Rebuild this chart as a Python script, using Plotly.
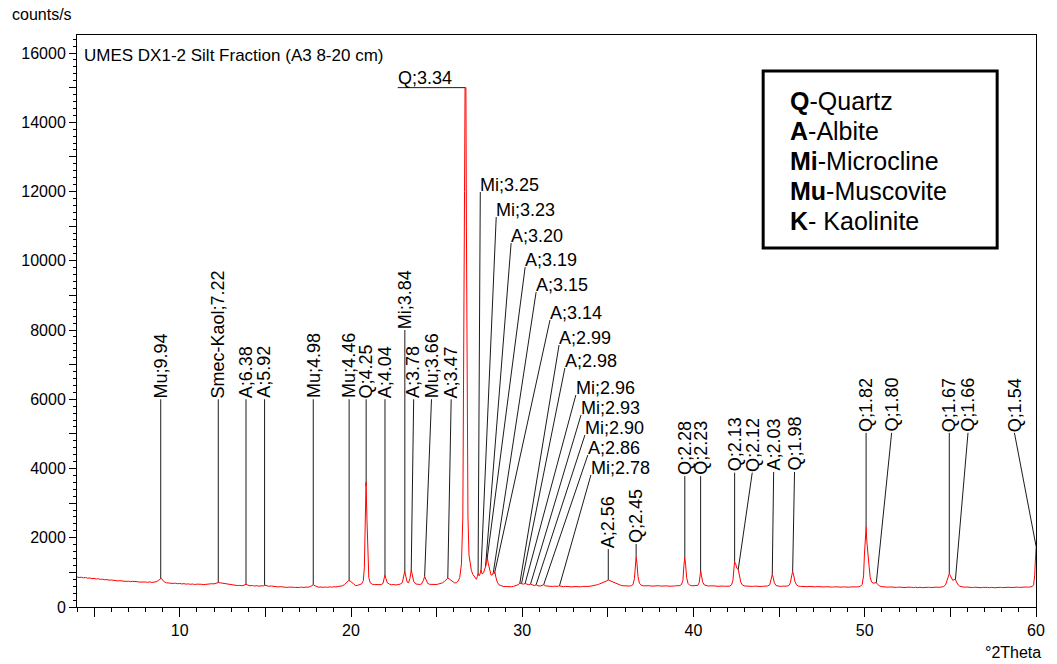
import numpy as np
import plotly.graph_objects as go

# ---------------------------------------------------------------------------
# Measured scan: (°2Theta, counts/s), Cu K-alpha, silt fraction
# ---------------------------------------------------------------------------
scan_04_13 = [
    (4.00, 868), (4.12, 852), (4.25, 860), (4.37, 842), (4.50, 851), (4.62, 833),
    (4.75, 838), (4.87, 820), (5.00, 826), (5.12, 808), (5.25, 815), (5.37, 798),
    (5.50, 804), (5.62, 786), (5.75, 792), (5.87, 775), (6.00, 781), (6.12, 766),
    (6.25, 772), (6.37, 755), (6.50, 761), (6.62, 748), (6.75, 753), (6.87, 738),
    (7.00, 746), (7.12, 732), (7.25, 740), (7.37, 726), (7.50, 733), (7.62, 720),
    (7.75, 728), (7.87, 714), (8.00, 722), (8.12, 712), (8.25, 725), (8.37, 710),
    (8.50, 722), (8.62, 728), (8.75, 765), (8.85, 815), (8.92, 830), (9.00, 780),
    (9.10, 725), (9.22, 700), (9.35, 688), (9.50, 695), (9.62, 680), (9.75, 688),
    (9.87, 672), (10.00, 680), (10.12, 666), (10.25, 674), (10.37, 660), (10.50, 668),
    (10.62, 655), (10.75, 664), (10.87, 650), (11.00, 660), (11.12, 648), (11.25, 657),
    (11.37, 646), (11.50, 658), (11.62, 650), (11.75, 664), (11.87, 672), (12.00, 668),
    (12.12, 690), (12.25, 705), (12.37, 698), (12.50, 688), (12.62, 672), (12.75, 662),
    (12.87, 645),
]

scan_13_20 = [
    (13.00, 632), (13.12, 622), (13.25, 630), (13.37, 618), (13.50, 625), (13.62, 615),
    (13.75, 628), (13.87, 658), (13.97, 632), (14.10, 612), (14.25, 620), (14.37, 606),
    (14.50, 615), (14.62, 602), (14.75, 612), (14.87, 608), (14.95, 628), (15.05, 610),
    (15.20, 600), (15.35, 606), (15.50, 590), (15.62, 596), (15.75, 580), (15.87, 588),
    (16.00, 574), (16.12, 580), (16.25, 566), (16.37, 574), (16.50, 562), (16.62, 572),
    (16.75, 564), (16.87, 575), (17.00, 566), (17.12, 574), (17.25, 563), (17.37, 578),
    (17.50, 570), (17.62, 588), (17.72, 612), (17.80, 642), (17.90, 612), (18.00, 585),
    (18.12, 570), (18.25, 580), (18.37, 566), (18.50, 578), (18.62, 568), (18.75, 582),
    (18.87, 572), (19.00, 586), (19.12, 578), (19.25, 592), (19.37, 596), (19.50, 612),
    (19.62, 648), (19.75, 720), (19.85, 758), (19.95, 752), (20.05, 705), (20.15, 650),
    (20.27, 618), (20.40, 628),
]

scan_20_29 = [
    (20.52, 645), (20.62, 668), (20.72, 760), (20.78, 1150), (20.83, 2400), (20.88, 3600),
    (20.93, 2550), (20.98, 1350), (21.04, 850), (21.12, 700), (21.25, 655), (21.37, 648),
    (21.50, 640), (21.62, 632), (21.75, 645), (21.87, 680), (21.93, 790), (21.98, 928),
    (22.04, 820), (22.12, 700), (22.25, 660), (22.37, 642), (22.50, 650), (22.62, 636),
    (22.75, 645), (22.87, 660), (23.00, 705), (23.08, 880), (23.14, 1040), (23.20, 890),
    (23.28, 720), (23.36, 700), (23.44, 820), (23.52, 1070), (23.58, 920), (23.66, 740),
    (23.78, 665), (23.90, 655), (24.02, 650), (24.12, 668), (24.22, 760), (24.30, 880),
    (24.38, 770), (24.48, 680), (24.60, 655), (24.72, 648), (24.85, 656), (24.97, 650),
    (25.10, 662), (25.22, 672), (25.35, 700), (25.47, 745), (25.57, 790), (25.65, 832),
    (25.75, 805), (25.85, 770), (25.95, 730), (26.05, 695), (26.15, 700), (26.25, 745),
    (26.35, 850), (26.45, 1250), (26.53, 2600), (26.59, 6500), (26.63, 12000), (26.66, 15000),
    (26.71, 15000), (26.74, 11000), (26.78, 5500), (26.83, 2600), (26.89, 1500), (26.96, 1180),
    (27.03, 1050), (27.12, 940), (27.22, 860), (27.32, 800), (27.38, 880), (27.42, 980),
    (27.48, 900), (27.54, 960), (27.59, 1070), (27.66, 950), (27.74, 990), (27.80, 1060),
    (27.86, 1170), (27.92, 1330), (27.96, 1410), (28.02, 1250), (28.10, 1030), (28.18, 920),
    (28.26, 930), (28.31, 990), (28.36, 960), (28.40, 1020), (28.46, 860), (28.54, 720),
    (28.64, 640),
]

scan_29_40 = [
    (28.75, 612), (28.87, 598), (29.00, 590), (29.12, 584), (29.25, 594), (29.37, 586),
    (29.50, 598), (29.62, 612), (29.75, 640), (29.86, 688), (29.96, 682), (30.06, 660),
    (30.17, 678), (30.28, 650), (30.38, 642), (30.48, 662), (30.60, 628), (30.70, 618),
    (30.81, 640), (30.92, 612), (31.05, 605), (31.15, 620), (31.25, 642), (31.37, 608),
    (31.50, 600), (31.62, 606), (31.75, 594), (31.87, 600), (32.00, 590), (32.10, 598),
    (32.17, 610), (32.27, 592), (32.40, 585), (32.52, 596), (32.65, 584), (32.77, 594),
    (32.90, 580), (33.02, 590), (33.15, 582), (33.27, 592), (33.40, 584), (33.52, 594),
    (33.65, 588), (33.77, 600), (33.90, 596), (34.02, 606), (34.15, 612), (34.27, 628),
    (34.40, 645), (34.52, 668), (34.65, 690), (34.77, 712), (34.90, 745), (35.02, 782),
    (35.12, 760), (35.25, 730), (35.37, 700), (35.50, 672), (35.62, 650), (35.75, 628),
    (35.87, 615), (36.00, 608), (36.12, 614), (36.25, 605), (36.37, 618), (36.47, 650),
    (36.55, 820), (36.60, 1180), (36.65, 1450), (36.70, 1250), (36.76, 880), (36.84, 690),
    (36.95, 628), (37.07, 612), (37.20, 618), (37.32, 604), (37.45, 614), (37.57, 602),
    (37.70, 612), (37.82, 600), (37.95, 615), (38.07, 604), (38.20, 612), (38.32, 600),
    (38.45, 610), (38.57, 602), (38.70, 614), (38.82, 604), (38.95, 612), (39.07, 606),
    (39.20, 618), (39.30, 650), (39.38, 760), (39.44, 1200), (39.49, 1420), (39.54, 1220),
    (39.60, 850), (39.68, 680), (39.78, 630), (39.90, 612),
]

scan_40_50 = [
    (40.02, 620), (40.14, 610), (40.25, 625), (40.33, 700), (40.38, 870), (40.42, 1040),
    (40.47, 900), (40.53, 730), (40.62, 640), (40.75, 612), (40.87, 604), (41.00, 612),
    (41.12, 600), (41.25, 608), (41.37, 598), (41.50, 606), (41.62, 596), (41.75, 604),
    (41.87, 598), (42.00, 608), (42.12, 604), (42.22, 640), (42.30, 760), (42.36, 1100),
    (42.40, 1310), (42.46, 1250), (42.53, 1120), (42.61, 1090), (42.68, 900), (42.76, 720),
    (42.85, 640), (42.95, 612), (43.07, 604), (43.20, 596), (43.32, 606), (43.45, 595),
    (43.57, 603), (43.70, 594), (43.82, 602), (43.95, 592), (44.07, 600), (44.20, 596),
    (44.32, 606), (44.45, 640), (44.52, 760), (44.57, 890), (44.60, 940), (44.65, 860),
    (44.72, 700), (44.82, 620), (44.95, 600), (45.07, 594), (45.20, 602), (45.32, 596),
    (45.45, 604), (45.57, 620), (45.66, 700), (45.73, 900), (45.79, 1020), (45.85, 920),
    (45.92, 740), (46.02, 640), (46.12, 604), (46.25, 596), (46.37, 590), (46.50, 598),
    (46.62, 586), (46.75, 594), (46.87, 584), (47.00, 592), (47.12, 582), (47.25, 590),
    (47.37, 580), (47.50, 588), (47.62, 578), (47.75, 586), (47.87, 576), (48.00, 586),
    (48.12, 575), (48.25, 584), (48.37, 574), (48.50, 582), (48.62, 574), (48.75, 580),
    (48.87, 572), (49.00, 580), (49.12, 572), (49.25, 582), (49.37, 574), (49.50, 580),
    (49.62, 584), (49.75, 600), (49.85, 650), (49.93, 900), (49.98, 1500), (50.03, 2050),
    (50.08, 2320), (50.12, 1900), (50.16, 1600), (50.21, 1480), (50.26, 1150), (50.32, 850),
    (50.40, 720),
]

scan_50_60 = [
    (50.50, 690), (50.60, 685), (50.67, 702), (50.75, 660), (50.85, 610), (50.97, 590),
    (51.10, 578), (51.22, 586), (51.35, 572), (51.47, 580), (51.60, 568), (51.72, 578),
    (51.85, 566), (51.97, 576), (52.10, 564), (52.22, 574), (52.35, 562), (52.47, 572),
    (52.60, 560), (52.72, 570), (52.85, 562), (52.97, 572), (53.10, 560), (53.22, 570),
    (53.35, 558), (53.47, 568), (53.60, 560), (53.72, 570), (53.85, 562), (53.97, 572),
    (54.10, 564), (54.22, 574), (54.35, 566), (54.47, 578), (54.60, 590), (54.72, 640),
    (54.82, 820), (54.88, 930), (54.94, 970), (55.00, 900), (55.07, 820), (55.14, 770),
    (55.22, 790), (55.29, 800), (55.36, 720), (55.45, 640), (55.55, 600), (55.67, 580),
    (55.80, 572), (55.92, 578), (56.05, 566), (56.17, 574), (56.30, 562), (56.42, 572),
    (56.55, 560), (56.67, 570), (56.80, 558), (56.92, 568), (57.05, 556), (57.17, 566),
    (57.30, 558), (57.42, 568), (57.55, 556), (57.67, 566), (57.80, 558), (57.92, 568),
    (58.05, 560), (58.17, 570), (58.30, 560), (58.42, 570), (58.55, 562), (58.67, 572),
    (58.80, 562), (58.92, 574), (59.05, 566), (59.17, 576), (59.30, 568), (59.42, 578),
    (59.55, 572), (59.67, 582), (59.78, 590), (59.86, 640), (59.92, 900), (59.96, 1300),
    (60.00, 1700),
]

# ---------------------------------------------------------------------------
# Identified reflections: phase code and d-spacing (Å)
# ---------------------------------------------------------------------------
peak_phase = ["Mu", "Smec-Kaol", "A", "A", "Mu", "Mu", "Q", "A", "Mi", "A", "Mu", "A",
              "Q", "Mi", "Mi", "A", "A", "A", "A", "A", "A", "Mi", "Mi", "Mi", "A", "Mi",
              "A", "Q", "Q", "Q", "Q", "Q", "A", "Q", "Q", "Q", "Q", "Q", "Q"]
peak_d = [9.94, 7.22, 6.38, 5.92, 4.98, 4.46, 4.25, 4.04, 3.84, 3.78, 3.66, 3.47,
          3.34, 3.25, 3.23, 3.20, 3.19, 3.15, 3.14, 2.99, 2.98, 2.96, 2.93, 2.90, 2.86, 2.78,
          2.56, 2.45, 2.28, 2.23, 2.13, 2.12, 2.03, 1.98, 1.82, 1.80, 1.67, 1.66, 1.54]

legend_codes = ["Q", "A", "Mi", "Mu", "K"]
legend_names = ["-Quartz", "-Albite", "-Microcline", "-Muscovite", "- Kaolinite"]

x_ticks = [5, 10, 15, 20, 25, 30, 35, 40, 45, 50, 55, 60]
y_ticks = list(range(0, 17000, 1000))

WAVELENGTH = 1.5406  # Cu K-alpha1, Å

# Label placement: (text anchor °2Theta or None = at the peak, anchor counts, style)
# style "v" = vertical text above a leader, "h" = horizontal text, "top" = underlined
label_layout = [
    (None, 6000, "v"), (None, 6000, "v"), (None, 6000, "v"), (None, 6000, "v"),
    (None, 6000, "v"), (None, 6000, "v"), (None, 6000, "v"), (None, 6000, "v"),
    (None, 8000, "v"), (23.66, 6000, "v"), (24.70, 6000, "v"), (25.85, 6000, "v"),
    (22.73, 15000, "top"),
    (27.55, 11985, "h"), (28.48, 11262, "h"), (29.35, 10511, "h"), (30.17, 9818, "h"),
    (30.81, 9096, "h"), (31.62, 8288, "h"), (32.15, 7566, "h"), (32.49, 6902, "h"),
    (33.13, 6122, "h"), (33.43, 5544, "h"), (33.66, 4967, "h"), (33.83, 4389, "h"),
    (34.01, 3812, "h"),
    (None, 1675, "v"), (None, 1820, "v"), (None, 3780, "v"), (None, 3780, "v"),
    (None, 3880, "v"), (43.43, 3880, "v"), (44.68, 3900, "v"), (45.90, 3900, "v"),
    (None, 5030, "v"), (51.57, 5030, "v"), (None, 5030, "v"), (56.03, 5030, "v"),
    (58.74, 5030, "v"),
]

FONT = "Arial, 'Liberation Sans', sans-serif"
LABEL_SIZE = 18

# ---------------------------------------------------------------------------
scan = scan_04_13 + scan_13_20 + scan_20_29 + scan_29_40 + scan_40_50 + scan_50_60
two_theta = np.array([p[0] for p in scan])
cps = np.array([p[1] for p in scan])

peak_2theta = 2.0 * np.degrees(np.arcsin(WAVELENGTH / (2.0 * np.array(peak_d))))
peak_top = np.interp(peak_2theta, two_theta, cps)

lead_x, lead_y = [], []
annotations = []
for phase, d, tt, top, (ax, ay, style) in zip(peak_phase, peak_d, peak_2theta,
                                               peak_top, label_layout):
    text = f"{phase};{d:.2f}"
    anchor_x = tt if ax is None else ax
    lead_x += [anchor_x, tt, None]
    lead_y += [ay, top, None]
    if style == "v":
        annotations.append(dict(x=anchor_x, y=ay, xref="x", yref="y", text=text,
                                textangle=-90, showarrow=False, xanchor="center",
                                yanchor="bottom", borderpad=0,
                                font=dict(family=FONT, size=LABEL_SIZE, color="black")))
    else:
        annotations.append(dict(x=anchor_x, y=ay, xref="x", yref="y", text=text,
                                showarrow=False, xanchor="left", yanchor="bottom",
                                borderpad=0, xshift=-1, yshift=-4 if style == "h" else -1,
                                font=dict(family=FONT, size=LABEL_SIZE, color="black")))

fig = go.Figure()
fig.add_trace(go.Scatter(x=lead_x, y=lead_y, mode="lines",
                         line=dict(color="black", width=0.9),
                         hoverinfo="skip", showlegend=False))
fig.add_trace(go.Scatter(x=two_theta, y=cps, mode="lines",
                         line=dict(color="#ff0000", width=1),
                         name="UMES DX1-2", showlegend=False))

# Sample title, axis captions
annotations.append(dict(x=0.005, y=0.965, xref="paper", yref="paper",
                        text="UMES DX1-2 Silt Fraction (A3 8-20 cm)", showarrow=False,
                        xanchor="left", yanchor="middle",
                        font=dict(family=FONT, size=17, color="black")))
annotations.append(dict(x=-0.07, y=1.035, xref="paper", yref="paper", text="counts/s",
                        showarrow=False, xanchor="left", yanchor="middle",
                        font=dict(family=FONT, size=16, color="black")))
annotations.append(dict(x=1.0073, y=-0.0787, xref="paper", yref="paper", text="°2Theta",
                        showarrow=False, xanchor="right", yanchor="middle",
                        font=dict(family=FONT, size=16, color="black")))

# Phase key: one line per mineral inside a framed box
key_rows_y = [0.8846, 0.8322, 0.7797, 0.7273, 0.6748]
for code, name, ky in zip(legend_codes, legend_names, key_rows_y):
    annotations.append(dict(x=0.741, y=ky, xref="paper", yref="paper",
                            text=f"<b>{code}</b>{name}", showarrow=False,
                            xanchor="left", yanchor="middle", align="left",
                            font=dict(family=FONT, size=25, color="black")))

fig.update_layout(
    width=1057, height=664,
    margin=dict(l=77, r=17, t=35, b=57),
    paper_bgcolor="white", plot_bgcolor="white",
    annotations=annotations,
    shapes=[dict(type="rect", xref="paper", yref="paper",
                 x0=0.7155, x1=0.9595, y0=0.6276, y1=0.9371,
                 line=dict(color="black", width=3), fillcolor="white", layer="below")],
    font=dict(family=FONT, size=16, color="black"),
)

fig.update_xaxes(
    range=[4, 60], showgrid=False, zeroline=False,
    showline=True, linecolor="black", linewidth=1, mirror=True,
    tickmode="array", tickvals=x_ticks,
    ticktext=[str(v) if v % 10 == 0 else "" for v in x_ticks],
    ticks="outside", ticklen=9, tickcolor="black", tickwidth=1,
    tickfont=dict(family=FONT, size=16, color="black"),
    minor=dict(tickmode="linear", tick0=0, dtick=1, ticks="outside", ticklen=4,
               tickcolor="black", showgrid=False),
)
fig.update_yaxes(
    range=[0, 16520], showgrid=False, zeroline=False,
    showline=True, linecolor="black", linewidth=1, mirror=True,
    tickmode="array", tickvals=y_ticks,
    ticktext=[str(v) if v % 2000 == 0 else "" for v in y_ticks],
    ticks="outside", ticklen=7, tickcolor="black", tickwidth=1,
    tickfont=dict(family=FONT, size=16, color="black"),
    minor=dict(tickmode="linear", tick0=0, dtick=200, ticks="outside", ticklen=3,
               tickcolor="black", showgrid=False),
)

fig.write_html("out.html")
